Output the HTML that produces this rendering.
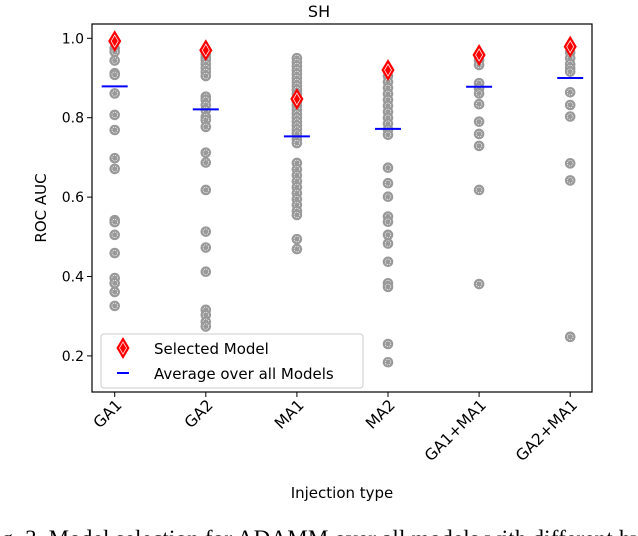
<!DOCTYPE html>
<html><head><meta charset="utf-8"><style>
body{margin:0;background:#fff;width:638px;height:536px;overflow:hidden}
svg{display:block;font-family:"DejaVu Sans","Liberation Sans",sans-serif}
</style></head><body>
<svg id="chart" width="638" height="536" viewBox="0 0 638 536" xmlns="http://www.w3.org/2000/svg">
<text x="319" y="17" font-size="16" text-anchor="middle">SH</text>
<g id="plot"></g>
<text transform="translate(46,208) rotate(-90)" font-size="15" text-anchor="middle">ROC AUC</text>
<text x="342" y="498" font-size="15" text-anchor="middle">Injection type</text>
<g>
<rect x="101" y="334" width="262" height="54" rx="3" fill="#fff" fill-opacity="0.8" stroke="#ccc"/>
<g>
<path d="M123,338 L129,348 L123,358 L117,348 Z" fill="red" stroke="red"/>
<path d="M123,342 L126.5,348 L123,354 L119.5,348 Z" fill="none" stroke="#fff" stroke-width="0.7"/>
<text x="154" y="354" font-size="15">Selected Model</text>
</g>
<g>
<line x1="117" y1="373" x2="129" y2="373" stroke="blue" stroke-width="2"/>
<text x="154" y="379" font-size="15">Average over all Models</text>
</g>
</g>
<text x="-18" y="546" font-size="23" font-family="Liberation Serif,serif" textLength="660" lengthAdjust="spacing">Fig. 3.   Model selection for ADAMM over all models with different hy</text>
</svg>
<script>
const categories = ["GA1","GA2","MA1","MA2","GA1+MA1","GA2+MA1"];
const allModels = [
 [0.975,0.966,0.944,0.912,0.908,0.861,0.807,0.769,0.698,0.671,0.542,0.537,0.505,0.459,0.396,0.383,0.361,0.326],
 [0.968,0.96,0.952,0.945,0.935,0.925,0.915,0.905,0.853,0.845,0.832,0.819,0.802,0.794,0.777,0.712,0.687,0.618,0.513,0.473,0.412,0.316,0.303,0.286,0.274],
 [0.950,0.94,0.93,0.92,0.91,0.90,0.89,0.88,0.87,0.86,0.85,0.84,0.83,0.82,0.81,0.80,0.79,0.78,0.77,0.76,0.745,0.736,0.686,0.67,0.655,0.64,0.625,0.61,0.595,0.58,0.565,0.555,0.494,0.469],
 [0.92,0.905,0.89,0.875,0.86,0.845,0.83,0.815,0.80,0.785,0.77,0.757,0.674,0.635,0.601,0.551,0.538,0.505,0.483,0.437,0.383,0.374,0.23,0.184],
 [0.958,0.945,0.933,0.887,0.874,0.861,0.834,0.79,0.759,0.729,0.618,0.381],
 [0.979,0.965,0.95,0.935,0.925,0.916,0.864,0.832,0.803,0.685,0.642,0.248]
];
const selected = [0.993,0.970,0.847,0.920,0.958,0.979];
const averages = [0.879,0.821,0.753,0.772,0.878,0.900];
const yTicks = [0.2,0.4,0.6,0.8,1.0];
const yTickLabels = ["0.2","0.4","0.6","0.8","1.0"];

const L=92,R=592,T=24,B=392;
const xScale=i=>114.7+i*91.1;
const yScale=v=>38.3+(1-v)*397;
const NS="http://www.w3.org/2000/svg";
const plot=document.getElementById('plot');
function mk(tag,attrs,parent){const e=document.createElementNS(NS,tag);for(const k in attrs)e.setAttribute(k,attrs[k]);(parent||plot).appendChild(e);return e;}

const frame=mk('rect',{x:L,y:T,width:R-L,height:B-T,fill:'none',stroke:'#000','stroke-width':1.2});



yTicks.forEach((v,i)=>{
 const y=yScale(v);
 const g=mk('g',{});
 
 
 mk('line',{x1:L-5,y1:y,x2:L,y2:y,stroke:'#000'},g);
 const t=mk('text',{x:L-8,y:y+5,'font-size':14,'text-anchor':'end'},g);
 t.textContent=yTickLabels[i];
});

categories.forEach((c,i)=>{
 const x=xScale(i);
 const g=mk('g',{});
 
 
 mk('line',{x1:x,y1:B,x2:x,y2:B+5,stroke:'#000'},g);
 const t=mk('text',{transform:`translate(${x+8},${B+14}) rotate(-45)`,'font-size':15.5,'text-anchor':'end'},g);
 t.textContent=c;
});

categories.forEach((c,i)=>{
 const x=xScale(i);
 const g=mk('g',{});
 
 
 allModels[i].forEach(v=>{
  const y=yScale(v);
  const p=mk('circle',{cx:x,cy:y,r:5.3,fill:'#999'},g);
  
  
  mk('circle',{cx:x,cy:y,r:2.8,fill:'none',stroke:'#fff','stroke-width':0.7,'stroke-dasharray':'1.2 1'},g);
 });
 const ay=yScale(averages[i]);
 const a=mk('line',{x1:x-13,y1:ay,x2:x+13,y2:ay,stroke:'blue','stroke-width':2});
 
 
 const sy=yScale(selected[i]);
 const d=mk('path',{d:`M${x},${sy-10} L${x+6},${sy} L${x},${sy+10} L${x-6},${sy} Z`,fill:'red',stroke:'red'});
 
 
 mk('path',{d:`M${x},${sy-6} L${x+3.5},${sy} L${x},${sy+6} L${x-3.5},${sy} Z`,fill:'none',stroke:'#fff','stroke-width':0.7});
});
</script>
</body></html>
